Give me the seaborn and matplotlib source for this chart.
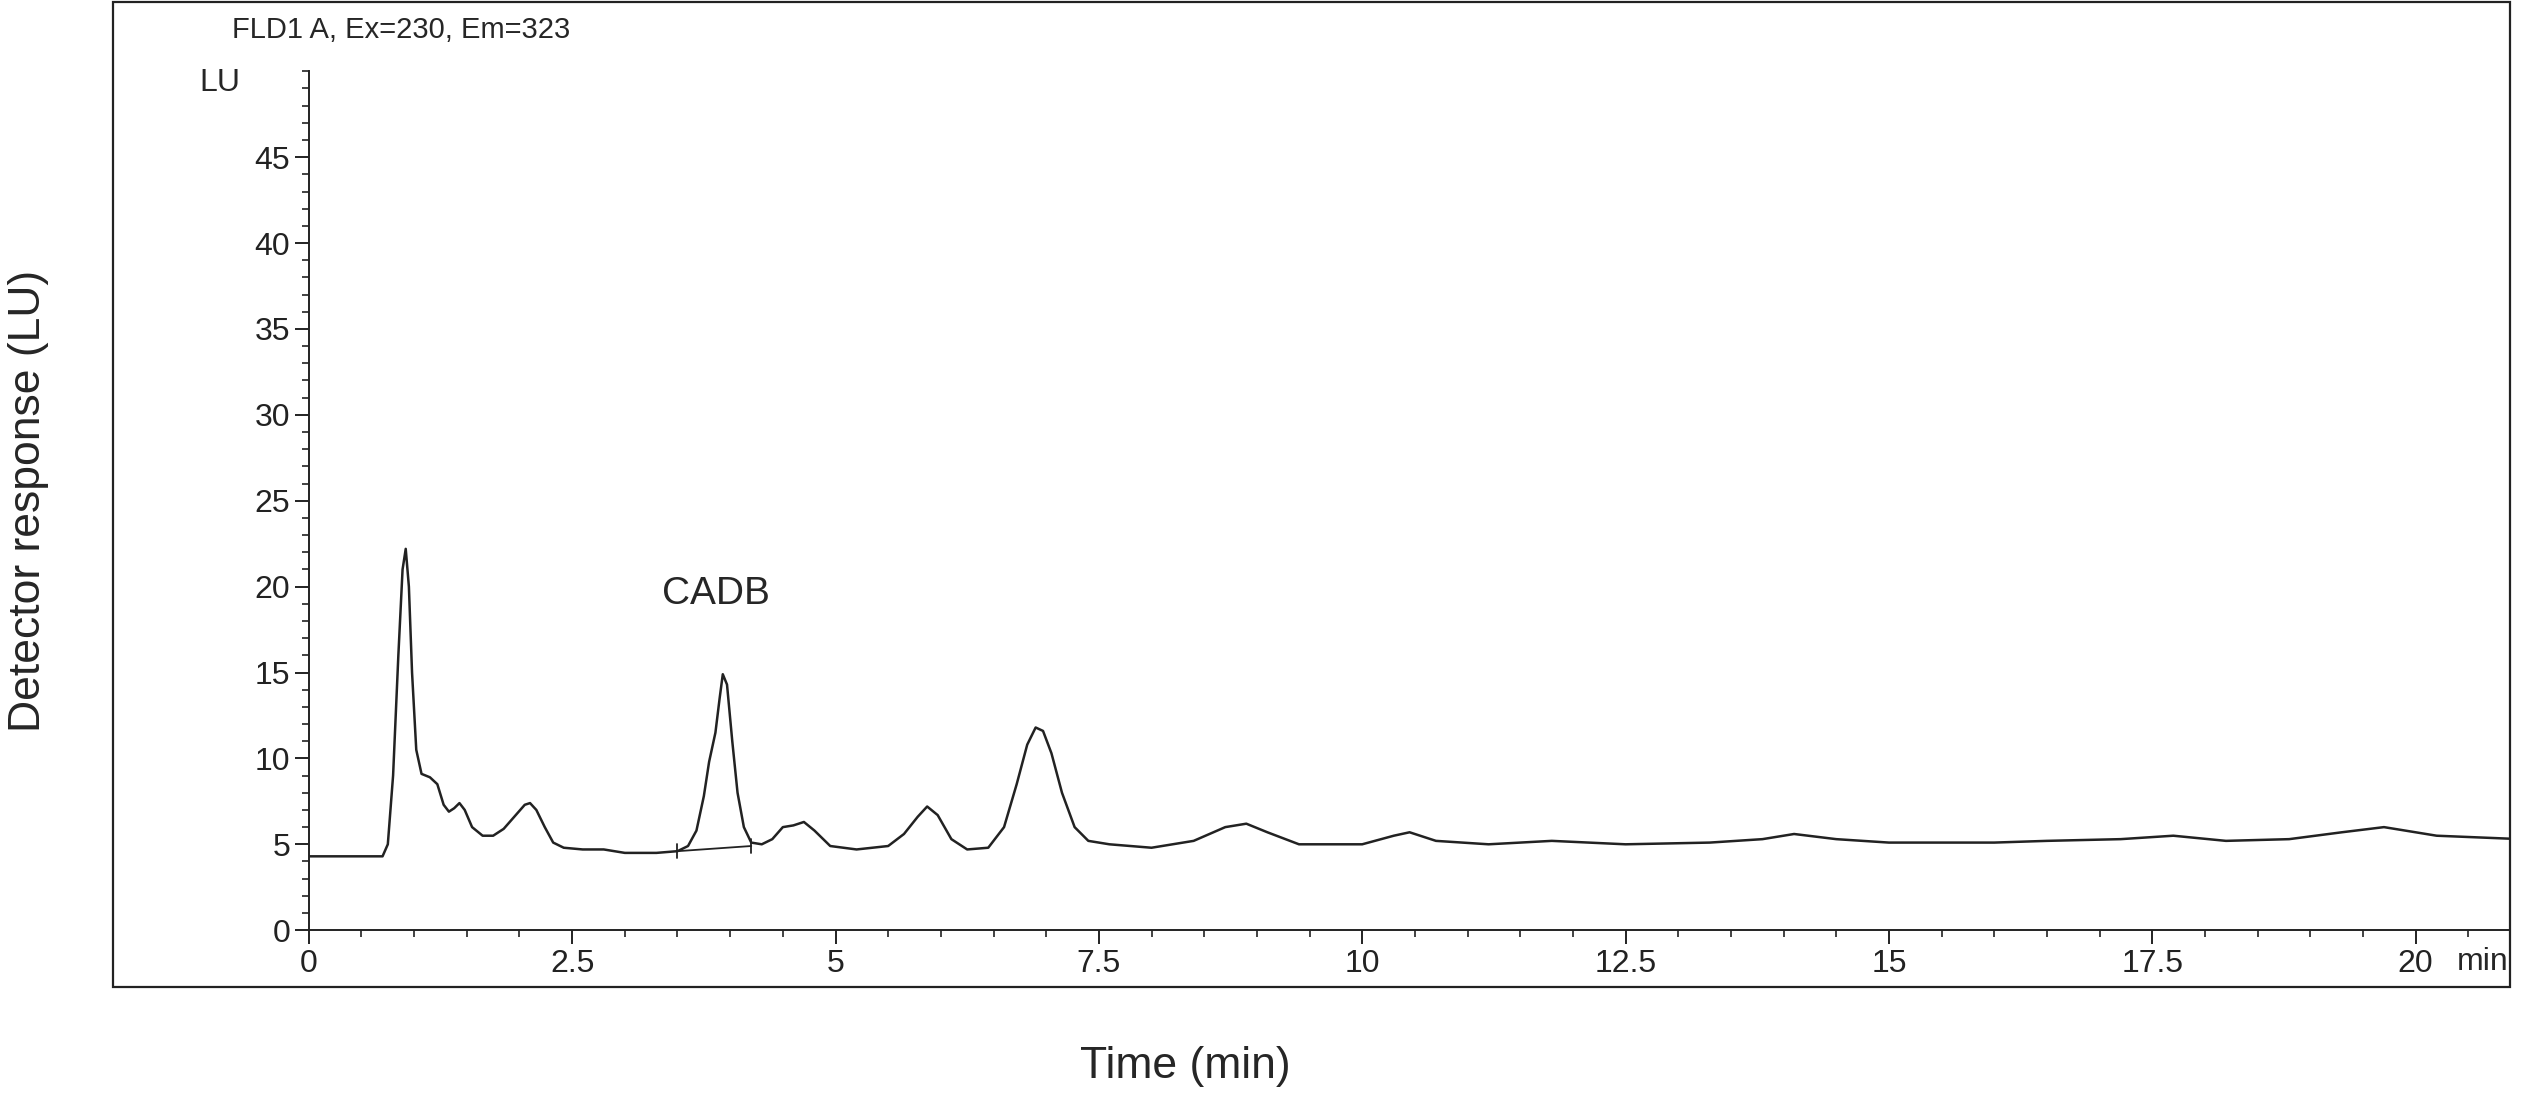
import numpy as np
import pandas as pd
import matplotlib
matplotlib.use("Agg")
import matplotlib.pyplot as plt
import seaborn as sns
from matplotlib.ticker import MultipleLocator, FuncFormatter

# chromatogram trace (time in min, response in LU)
time_min = [0, 0.7, 0.75, 0.8, 0.85, 0.89, 0.92, 0.95, 0.98, 1.02, 1.07, 1.15, 1.22,
            1.28, 1.33, 1.38, 1.43, 1.48, 1.55, 1.65, 1.75, 1.85, 1.95, 2.05, 2.1,
            2.16, 2.24, 2.32, 2.42, 2.6, 2.8, 3.0, 3.3, 3.5, 3.6, 3.68, 3.75, 3.8,
            3.86, 3.9, 3.93, 3.97, 4.02, 4.07, 4.13, 4.2, 4.3, 4.4, 4.5, 4.6, 4.7,
            4.8, 4.95, 5.2, 5.5, 5.65, 5.78, 5.87, 5.97, 6.1, 6.25, 6.45, 6.6,
            6.72, 6.82, 6.9, 6.97, 7.05, 7.15, 7.27, 7.4, 7.6, 8.0, 8.4, 8.7, 8.9,
            9.1, 9.4, 10.0, 10.3, 10.45, 10.7, 11.2, 11.8, 12.5, 13.3, 13.8, 14.1,
            14.5, 15.0, 16.0, 16.5, 17.2, 17.7, 18.2, 18.8, 19.3, 19.7, 20.2, 21.0]
response_lu = [4.3, 4.3, 5.0, 9.0, 16.0, 21.0, 22.2, 20.0, 15.0, 10.5, 9.1, 8.9, 8.5,
               7.3, 6.9, 7.1, 7.4, 7.0, 6.0, 5.5, 5.5, 5.9, 6.6, 7.3, 7.4,
               7.0, 6.0, 5.1, 4.8, 4.7, 4.7, 4.5, 4.5, 4.6, 4.9, 5.8, 7.8, 9.8,
               11.5, 13.5, 14.9, 14.3, 11.0, 8.0, 6.0, 5.1, 5.0, 5.3, 6.0, 6.1, 6.3,
               5.8, 4.9, 4.7, 4.9, 5.6, 6.6, 7.2, 6.7, 5.3, 4.7, 4.8, 6.0,
               8.5, 10.8, 11.8, 11.6, 10.3, 8.0, 6.0, 5.2, 5.0, 4.8, 5.2, 6.0, 6.2,
               5.7, 5.0, 5.0, 5.5, 5.7, 5.2, 5.0, 5.2, 5.0, 5.1, 5.3, 5.6,
               5.3, 5.1, 5.1, 5.2, 5.3, 5.5, 5.2, 5.3, 5.7, 6.0, 5.5, 5.3]

# integration baseline of the CADB peak
base_t = [3.5, 4.2]
base_y = [4.6, 4.9]

df = pd.DataFrame({"time": time_min, "resp": response_lu})

sns.set_theme(style="white")
plt.rcParams["font.family"] = ["Liberation Sans", "DejaVu Sans"]

fig = plt.figure(figsize=(25.23, 11.14), dpi=100)
ax = fig.add_axes([0.1224, 0.165, 0.8726, 0.771])

sns.lineplot(data=df, x="time", y="resp", ax=ax, color="#222222", linewidth=1.8)
ax.plot(base_t, base_y, color="#222222", linewidth=1.3)
for t, y in zip(base_t, base_y):
    ax.plot([t, t], [y - 0.4, y + 0.4], color="#222222", linewidth=1.3)

ax.text(3.35, 19.0, "CADB", fontsize=28)

ax.set_xlim(0, 20.9)
ax.set_ylim(0, 50)
ax.xaxis.set_major_locator(MultipleLocator(2.5))
ax.xaxis.set_minor_locator(MultipleLocator(0.5))
ax.yaxis.set_major_locator(MultipleLocator(5))
ax.yaxis.set_minor_locator(MultipleLocator(1))
ax.set_yticks(np.arange(0, 50, 5))
fmt = FuncFormatter(lambda v, p: f"{v:g}")
ax.xaxis.set_major_formatter(fmt)
ax.tick_params(axis="both", which="major", direction="out", length=10, width=1.4,
               labelsize=23, colors="#222222")
ax.tick_params(axis="both", which="minor", direction="out", length=5, width=1.2,
               colors="#222222")
ax.tick_params(axis="x", which="both", bottom=True)
ax.tick_params(axis="y", which="both", left=True)
for s in ["top", "right"]:
    ax.spines[s].set_visible(False)
for s in ["left", "bottom"]:
    ax.spines[s].set_color("#222222")
    ax.spines[s].set_linewidth(1.4)
ax.set_xlabel("")
ax.set_ylabel("")

ax.text(-0.65, 49.3, "LU", fontsize=23, ha="right", va="center")
ax.text(20.88, -1.0, "min", fontsize=23, ha="right", va="top")

# outer frame
fig.patches.append(plt.Rectangle((0.0447, 0.114), 0.9503, 0.884, transform=fig.transFigure,
                                 fill=False, edgecolor="#222222", linewidth=1.6))
fig.text(0.092, 0.973, "FLD1 A, Ex=230, Em=323", fontsize=21, va="center")
fig.text(0.003, 0.55, "Detector response (LU)", fontsize=32, rotation=90, va="center")
fig.text(0.47, 0.043, "Time (min)", fontsize=32, ha="center", va="center")

fig.savefig("out.png", dpi=100)
